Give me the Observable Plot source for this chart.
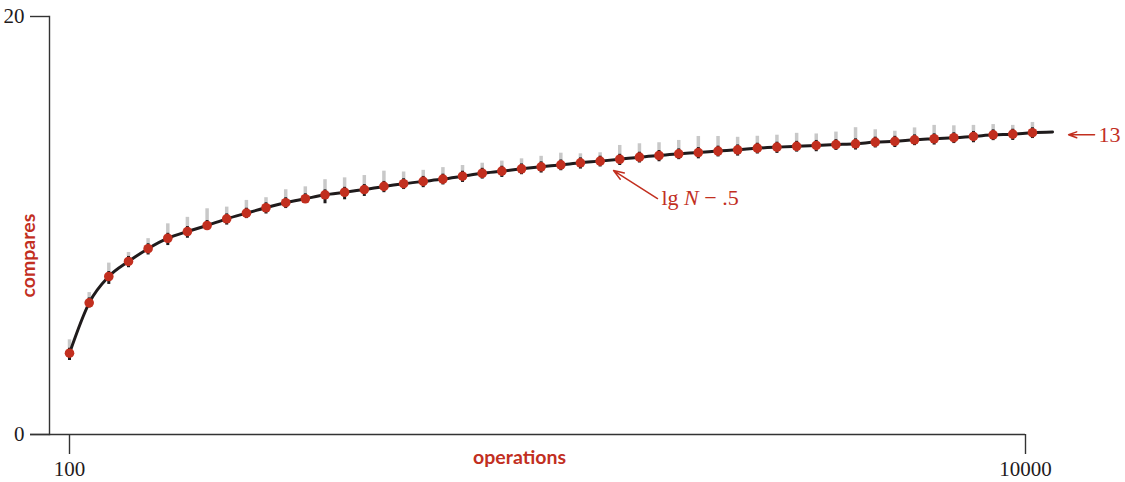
<!DOCTYPE html>
<html>
<head>
<meta charset="utf-8">
<script src="https://cdn.jsdelivr.net/npm/d3@7"></script>
<script src="https://cdn.jsdelivr.net/npm/@observablehq/plot@0.6"></script>
<style>
  html, body { margin: 0; padding: 0; background: #fff; }
  #chart svg { display: block; }
</style>
</head>
<body>
<div id="chart"></div>
<script>
// Operations (N) at which the experiment was measured
const operations = [100, 304, 507, 711, 914, 1118, 1321, 1525, 1728, 1932,
  2135, 2339, 2542, 2746, 2949, 3153, 3356, 3560, 3763, 3967,
  4170, 4374, 4577, 4781, 4984, 5188, 5391, 5595, 5798, 6002,
  6205, 6409, 6612, 6816, 7019, 7223, 7426, 7630, 7833, 8037,
  8240, 8444, 8647, 8851, 9054, 9258, 9461, 9665, 9868, 10072];

// Average compares (red dots)
const avgCompares = [3.89, 6.30, 7.56, 8.28, 8.89, 9.39, 9.71, 10.00, 10.32, 10.59,
  10.85, 11.09, 11.28, 11.47, 11.59, 11.72, 11.87, 12.00, 12.11, 12.22,
  12.36, 12.50, 12.60, 12.71, 12.81, 12.90, 13.00, 13.08, 13.17, 13.27,
  13.35, 13.43, 13.49, 13.56, 13.62, 13.70, 13.75, 13.79, 13.83, 13.87,
  13.91, 13.99, 14.03, 14.10, 14.15, 14.20, 14.26, 14.34, 14.37, 14.44];

// Lower end of black bar
const lowCompares = [3.54, 6.06, 7.18, 7.98, 8.59, 9.04, 9.39, 9.84, 10.02, 10.33,
  10.55, 10.81, 11.07, 11.04, 11.23, 11.39, 11.57, 11.72, 11.81, 11.94,
  12.06, 12.22, 12.30, 12.43, 12.51, 12.62, 12.70, 12.80, 12.87, 12.99,
  13.05, 13.15, 13.19, 13.28, 13.32, 13.42, 13.45, 13.51, 13.53, 13.59,
  13.61, 13.71, 13.73, 13.82, 13.85, 13.92, 13.96, 14.06, 14.07, 14.16];

// Top of black bar / bottom of grey bar
const midCompares = [4.13, 6.54, 7.80, 8.52, 9.13, 9.63, 9.95, 10.24, 10.56, 10.83,
  11.09, 11.33, 11.52, 11.71, 11.83, 11.96, 12.11, 12.24, 12.35, 12.46,
  12.60, 12.74, 12.84, 12.95, 13.05, 13.14, 13.24, 13.32, 13.41, 13.51,
  13.59, 13.67, 13.73, 13.80, 13.86, 13.94, 13.99, 14.03, 14.07, 14.11,
  14.15, 14.23, 14.27, 14.34, 14.39, 14.44, 14.50, 14.58, 14.61, 14.68];

// Top of grey bar
const highCompares = [4.53, 6.79, 8.20, 8.71, 9.37, 10.08, 10.39, 10.80, 10.88, 11.20,
  11.33, 11.71, 11.85, 12.19, 12.28, 12.39, 12.60, 12.56, 12.64, 12.77,
  12.87, 12.98, 13.08, 13.19, 13.31, 13.46, 13.43, 13.48, 13.83, 13.91,
  13.96, 14.07, 14.26, 14.26, 14.22, 14.27, 14.32, 14.41, 14.38, 14.47,
  14.68, 14.58, 14.51, 14.67, 14.79, 14.77, 14.79, 14.83, 14.79, 14.93];

// Model curve lg N − .5 (as drawn)
const curveOperations = [...operations, 10280];
const curveCompares = [...avgCompares, 14.47];

// Axis ticks
const xTicks = [100, 10000];
const yTicks = [0, 20];

// Annotations
const curveLabel = {text: "lg N − .5", x: 6230, y: 11.34, arrowX1: 6189, arrowY1: 11.29, arrowX2: 5734, arrowY2: 12.63};
const endLabel = {text: "13", x: 10756, y: 14.34, arrowX1: 10715, arrowY1: 14.34, arrowX2: 10446, arrowY2: 14.34};

const RED = "#c22f1f";
const INK = "#1f1b1c";

const points = operations.map((n, i) => ({
  n, avg: avgCompares[i], lo: lowCompares[i], mid: midCompares[i], hi: highCompares[i]
}));
const curve = curveOperations.map((n, i) => ({n, v: curveCompares[i]}));

const chart = Plot.plot({
  width: 1125,
  height: 482,
  marginLeft: 49,
  marginRight: 100,
  marginTop: 16,
  marginBottom: 48,
  style: {fontFamily: "Liberation Serif, serif", fontSize: "21px", color: INK, background: "#fff"},
  x: {domain: [100, 10000], range: [69, 1025]},
  y: {domain: [0, 20]},
  marks: [
    Plot.frame({anchor: "left", stroke: "#333", strokeWidth: 1.4}),
    Plot.ruleY([0], {insetLeft: -19, stroke: "#333", strokeWidth: 1.4}),
    Plot.axisY({ticks: yTicks, tickSize: 19, tickPadding: 6, label: null, stroke: "#333", strokeWidth: 1.4, fill: INK, fontSize: 21}),
    Plot.axisX({ticks: xTicks, tickSize: 20, tickPadding: 7, label: null, tickFormat: d => String(d), stroke: "#333", strokeWidth: 1.4, fill: INK, fontSize: 21}),
    Plot.ruleX(points, {x: "n", y1: "mid", y2: "hi", stroke: "#c8c8c8", strokeWidth: 3.5}),
    Plot.ruleX(points, {x: "n", y1: "lo", y2: "mid", stroke: INK, strokeWidth: 3}),
    Plot.line(curve, {x: "n", y: "v", stroke: INK, strokeWidth: 3, curve: "monotone-x"}),
    Plot.dot(points, {x: "n", y: "avg", r: 4.8, fill: RED}),
    Plot.text(["compares"], {frameAnchor: "left", rotate: -90, dx: -21, dy: 72, fill: RED, fontFamily: "Lato, sans-serif", fontWeight: 700, fontSize: 19.5}),
    Plot.text(["operations"], {frameAnchor: "bottom", dx: -18, dy: 29, fill: RED, fontFamily: "Lato, sans-serif", fontWeight: 700, fontSize: 19.5}),
    Plot.arrow([curveLabel], {x1: "arrowX1", y1: "arrowY1", x2: "arrowX2", y2: "arrowY2", stroke: RED, strokeWidth: 1.5, headLength: 11, headAngle: 40}),
    Plot.arrow([endLabel], {x1: "arrowX1", y1: "arrowY1", x2: "arrowX2", y2: "arrowY2", stroke: RED, strokeWidth: 1.5, headLength: 11, headAngle: 40}),
    Plot.text([curveLabel], {x: "x", y: "y", text: d => d.text, textAnchor: "start", fill: RED, fontSize: 22}),
    Plot.text([endLabel], {x: "x", y: "y", text: "text", textAnchor: "start", fill: RED, fontSize: 22})
  ]
});

// italicise N in the curve label
document.getElementById("chart").append(chart);
d3.select(chart).selectAll("text").each(function () {
  const t = d3.select(this);
  if (t.text() === "lg N − .5") {
    t.text(null);
    t.append("tspan").text("lg ");
    t.append("tspan").attr("font-style", "italic").text("N");
    t.append("tspan").text(" − .5");
  }
});
</script>
</body>
</html>
